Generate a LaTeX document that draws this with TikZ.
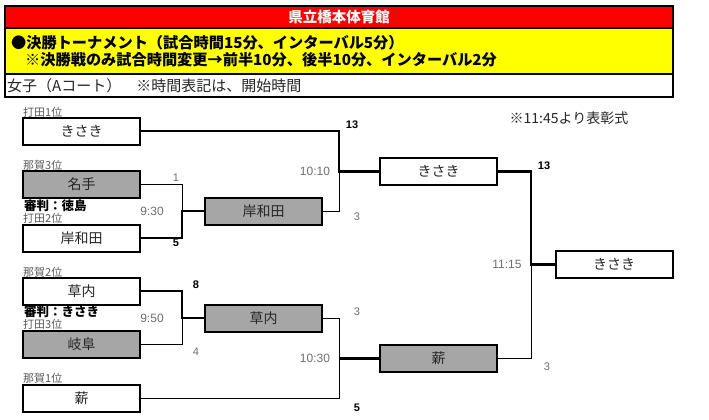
\documentclass[tikz,border=0pt]{standalone}
\usepackage{fontspec}
\setmainfont{Noto Sans CJK JP}
\newfontfamily\numfont{Liberation Sans}
\definecolor{boxgray}{RGB}{166,166,166}
\definecolor{hdred}{RGB}{255,0,0}
\definecolor{hdyellow}{RGB}{255,255,0}
\definecolor{lblgray}{RGB}{90,90,90}
\definecolor{numgray}{RGB}{110,110,110}
\begin{document}
\begin{tikzpicture}[x=1pt,y=-1pt,
  team/.style={draw=black,line width=2pt,minimum width=117pt,minimum height=27pt,inner sep=0pt,font=\fontsize{14}{14}\selectfont,text=black!85},
  teamw/.style={team,fill=white},
  teamg/.style={team,fill=boxgray},
  wline/.style={line width=1pt,black},
  bline/.style={line width=2.2pt,black,line join=miter},
  seed/.style={anchor=west,inner sep=0pt,font=\fontsize{11}{11}\selectfont,text=lblgray},
  judge/.style={anchor=west,inner sep=0pt,font=\fontsize{12.5}{12.5}\selectfont\bfseries,text=black},
  timelbl/.style={inner sep=0pt,font=\numfont\fontsize{12}{12}\selectfont,text=numgray},
  winsc/.style={inner sep=0pt,font=\numfont\fontsize{11}{11}\selectfont\bfseries,text=black},
  losesc/.style={inner sep=0pt,font=\numfont\fontsize{11}{11}\selectfont,text=numgray},
  hdtext/.style={anchor=west,inner sep=0pt,font=\fontsize{15.2}{15.2}\selectfont\bfseries,text=black}
]
\useasboundingbox[fill=white] (0,0) rectangle (709,420);
% header
\fill[hdred] (5,6) rectangle (673,28);
\fill[hdyellow] (5,28) rectangle (673,74);
\draw[line width=1.5pt] (5,6) rectangle (673,97);
\draw[line width=1.5pt] (5,28) -- (673,28);
\draw[line width=1.5pt] (5,74) -- (673,74);
\node[inner sep=0pt,font=\fontsize{14.5}{14.5}\selectfont\bfseries,text=white] (title) at (339,17) {県立橋本体育館};
\node[hdtext] (h1) at (11,43) {●決勝トーナメント（試合時間15分、インターバル5分）};
\node[hdtext] (h2) at (25,60) {※決勝戦のみ試合時間変更→前半10分、後半10分、インターバル2分};
\node[anchor=west,inner sep=0pt,font=\fontsize{15}{15}\selectfont,text=black!85] (h3) at (7,86) {女子（Aコート）\hspace{1em}※時間表記は、開始時間};
\node[inner sep=0pt,font=\fontsize{14}{14}\selectfont,text=black!85] (note) at (569,118) {※11:45より表彰式};
% round 1
\node[teamw] (A) at (81.5,131) {きさき};
\node[teamg] (B) at (81.5,184.5) {名手};
\node[teamw] (C) at (81.5,238) {岸和田};
\node[teamw] (D) at (81.5,291) {草内};
\node[teamg] (E) at (81.5,344.5) {岐阜};
\node[teamw] (F) at (81.5,398) {薪};
% round 2
\node[teamg] (G) at (263.5,211) {岸和田};
\node[teamg] (H) at (263.5,318) {草内};
% semi
\node[teamw] (I) at (438.5,171.5) {きさき};
\node[teamg] (J) at (438.5,358.5) {薪};
% final
\node[teamw] (K) at (614,264.5) {きさき};
% seed labels
\node[seed] (sA) at (23,112) {打田1位};
\node[seed] (sB) at (23,165) {那賀3位};
\node[judge] (jdg1) at (24,206) {審判：徳島};
\node[seed] (sC) at (23,218) {打田2位};
\node[seed] (sD) at (23,272) {那賀2位};
\node[judge] (jdg2) at (24,312) {審判：きさき};
\node[seed] (sE) at (23,324) {打田3位};
\node[seed] (sF) at (23,378) {那賀1位};
% junctions
\coordinate (jB) at (182,211);
\coordinate (jC) at (182,318);
\coordinate (jA) at (339,171.5);
\coordinate (jD) at (339,358.5);
\coordinate (jE) at (531,264.5);
% connectors
\draw[wline] (B.east) -| (jB);
\draw[bline] (C.east) -| (jB) -- (G.west);
\draw[bline] (D.east) -| (jC) -- (H.west);
\draw[wline] (E.east) -| (jC);
\draw[bline] (A.east) -| (jA) -- (I.west);
\draw[wline] (G.east) -| (jA);
\draw[wline] (H.east) -| (jD);
\draw[wline] (F.east) -| (jD);
\draw[bline] (jD) -- (J.west);
\draw[bline] (I.east) -| (jE) -- (K.west);
\draw[wline] (J.east) -| (jE);
% times
\node[timelbl] (t1) at (152,211) {9:30};
\node[timelbl] (t2) at (152,318) {9:50};
\node[timelbl] (t3) at (315,171) {10:10};
\node[timelbl] (t4) at (315,358) {10:30};
\node[timelbl] (t5) at (507,264) {11:15};
% scores
\node[losesc] (s1) at (176,178) {1};
\node[winsc] (s2) at (176,243) {5};
\node[winsc] (s3) at (196,285) {8};
\node[losesc] (s4) at (196,352) {4};
\node[winsc] (s5) at (352,125) {13};
\node[losesc] (s6) at (357,217) {3};
\node[losesc] (s7) at (357,312) {3};
\node[winsc] (s8) at (357,408) {5};
\node[winsc] (s9) at (544,166) {13};
\node[losesc] (s10) at (547,367) {3};
\end{tikzpicture}
\end{document}
